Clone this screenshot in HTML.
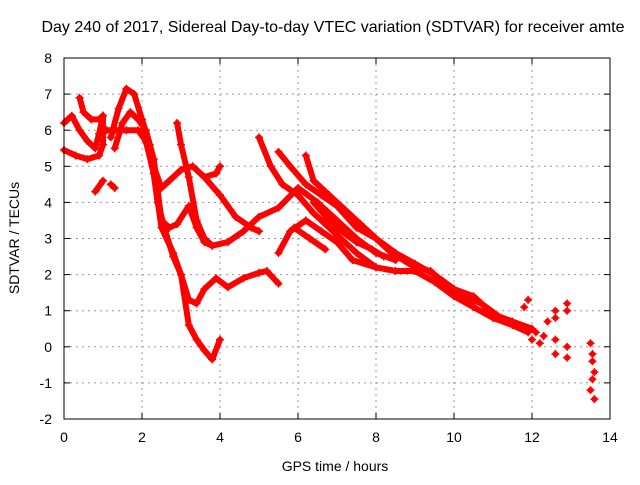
<!DOCTYPE html>
<html><head><meta charset="utf-8"><style>
body{margin:0;background:#fff;}
svg text{font-family:"Liberation Sans",sans-serif;font-size:14px;fill:#000;}
</style></head><body>
<svg id="chart" width="640" height="480" xmlns="http://www.w3.org/2000/svg">
<text x="333" y="32" text-anchor="middle" style="font-size:16px">Day 240 of 2017, Sidereal Day-to-day VTEC variation (SDTVAR) for receiver amte</text>
<text x="335" y="471" text-anchor="middle">GPS time / hours</text>
<text transform="translate(19,238) rotate(-90)" text-anchor="middle">SDTVAR / TECUs</text>
<g id="grid"></g><g id="marks"></g><g id="axes"></g>
</svg>
<script>
const xTicks=[0,2,4,6,8,10,12,14];
const yTicks=[-2,-1,0,1,2,3,4,5,6,7,8];
const track1=[[0,5.45],[0.3,5.3],[0.6,5.2],[0.9,5.3],[1.0,5.6],[1.0,6.4]];
const track2=[[0,6.2],[0.2,6.4],[0.4,6.0],[0.6,5.7],[0.8,5.5],[0.9,5.9],[1.0,6.4]];
const track3=[[0.4,6.9],[0.5,6.5],[0.7,6.3],[0.9,6.3],[1.0,6.4]];
const track4=[[0.8,4.3],[1.0,4.6]];
const track5=[[1.2,4.5],[1.3,4.4]];
const track6=[[1.2,5.8],[1.4,6.6],[1.6,7.15],[1.8,7.0],[2.0,6.3],[2.2,5.6],[2.4,4.0],[2.6,3.2],[2.8,2.5],[3.0,2.0],[3.2,1.3],[3.4,1.2],[3.6,1.6],[3.9,1.9],[4.2,1.65],[4.6,1.9],[5.0,2.05],[5.2,2.1],[5.5,1.75]];
const track7=[[1.1,6.0],[1.3,6.0],[1.6,6.0],[1.9,6.0],[2.1,5.7],[2.3,4.8],[2.5,3.3],[2.8,2.6],[3.0,2.0],[3.2,0.6],[3.4,0.2],[3.6,-0.1],[3.8,-0.35],[4.0,0.2]];
const track8=[[1.3,5.5],[1.5,6.2],[1.7,6.5],[1.9,6.3],[2.1,6.0],[2.3,5.2],[2.5,3.5],[2.7,3.3],[2.9,3.4],[3.2,3.9],[3.4,3.3],[3.6,2.9],[3.8,2.8],[4.2,2.9],[4.6,3.2],[5.0,3.6],[5.5,3.85],[6.0,4.4],[6.5,4.0],[7.0,3.5],[7.5,3.0],[8.0,2.6],[8.5,2.4]];
const track9=[[2.0,6.0],[2.3,5.0],[2.5,4.4],[2.7,4.6],[3.0,4.9],[3.3,5.0],[3.6,4.7],[3.9,4.8],[4.0,5.0]];
const track10=[[3.6,4.7],[4.0,4.2],[4.4,3.6],[4.8,3.3],[5.0,3.2]];
const track11=[[2.9,6.2],[3.0,5.6],[3.2,4.7],[3.4,3.5],[3.6,3.0],[3.8,2.8]];
const track12=[[5.0,5.8],[5.3,5.0],[5.6,4.5],[6.0,4.2],[6.4,3.7],[7.0,3.1],[7.5,2.6],[8.0,2.2],[8.5,2.1],[9.0,2.1],[9.5,1.8],[10,1.4],[10.5,1.1],[11,0.8],[11.5,0.6],[11.9,0.4]];
const track13=[[5.5,2.6],[5.8,3.2],[6.2,3.5],[6.6,3.2],[7.0,2.9],[7.4,2.4],[8.0,2.2]];
const track14=[[5.5,5.4],[5.8,5.0],[6.2,4.5],[6.6,4.2],[7.0,3.9],[7.5,3.3],[8.0,3.0],[8.5,2.6],[9.0,2.3],[9.5,2.0],[10,1.6],[10.5,1.4],[11,0.9],[11.5,0.7],[12,0.5]];
const track15=[[6.2,5.3],[6.4,4.6],[6.8,4.2],[7.2,3.8],[7.6,3.4],[8.0,3.0],[8.4,2.6],[9.0,2.2],[9.4,2.1],[9.8,1.6],[10.2,1.4],[10.7,1.2],[11.2,0.8]];
const track16=[[5.9,3.3],[6.3,3.0],[6.7,2.7]];
const track17=[[6.4,4.0],[6.8,3.5],[7.0,3.3],[7.5,2.9],[7.9,2.7],[8.2,2.5]];
const scatterPts=[[11.8,1.1],[11.9,1.3],[12.0,0.2],[12.1,0.4],[12.2,0.1],[12.3,0.3],[12.4,0.7],[12.6,1.0],[12.6,0.8],[12.6,0.2],[12.6,-0.2],[12.9,1.2],[12.9,1.0],[12.9,0.0],[12.9,-0.3],[13.5,0.1],[13.55,-0.2],[13.55,-0.4],[13.6,-0.7],[13.55,-0.9],[13.5,-1.2],[13.6,-1.45]];
const tracks=[track1,track2,track3,track4,track5,track6,track7,track8,track9,track10,track11,track12,track13,track14,track15,track16,track17];

const L=64,R=610,T=58,B=419,xMin=0,xMax=14,yMin=-2,yMax=8;
const xs=h=>L+(h-xMin)/(xMax-xMin)*(R-L);
const ys=v=>B-(v-yMin)/(yMax-yMin)*(B-T);
const NS='http://www.w3.org/2000/svg';
function mk(tag,parent,attrs){const e=document.createElementNS(NS,tag);for(const k in attrs)e.setAttribute(k,attrs[k]);parent.appendChild(e);return e;}
const grid=document.getElementById('grid'),marks=document.getElementById('marks'),axes=document.getElementById('axes');
xTicks.forEach(t=>{
  const x=xs(t);
  if(t>xMin&&t<xMax){const g=mk('line',grid,{x1:x,y1:T,x2:x,y2:B,stroke:'#999','stroke-dasharray':'2,4'});
  
  }
  mk('line',axes,{x1:x,y1:B,x2:x,y2:B-6,stroke:'#000'});
  mk('line',axes,{x1:x,y1:T,x2:x,y2:T+6,stroke:'#000'});
  const lb=mk('text',axes,{x:x,y:B+23,'text-anchor':'middle'});lb.textContent=t;
  
  
});
yTicks.forEach(t=>{
  const y=ys(t);
  if(t>yMin&&t<yMax){const g=mk('line',grid,{x1:L,y1:y,x2:R,y2:y,stroke:'#999','stroke-dasharray':'2,4'});
  
  }
  mk('line',axes,{x1:L,y1:y,x2:L+6,y2:y,stroke:'#000'});
  mk('line',axes,{x1:R,y1:y,x2:R-6,y2:y,stroke:'#000'});
  const lb=mk('text',axes,{x:L-12,y:y+5,'text-anchor':'end'});lb.textContent=t;
  
  
});
const fr=mk('rect',axes,{x:L,y:T,width:R-L,height:B-T,fill:'none',stroke:'#000'});


function plus(p,parent){
  const x=xs(p[0]),y=ys(p[1]);
  mk('path',parent,{d:`M${x-4},${y}H${x+4}M${x},${y-4}V${y+4}`,stroke:'#f00','stroke-width':1.5});
}
tracks.forEach(tr=>{
  const g=mk('g',marks,{});
  
  
  mk('polyline',g,{points:tr.map(p=>xs(p[0])+','+ys(p[1])).join(' '),fill:'none',stroke:'#f00','stroke-width':6,'stroke-linejoin':'round','stroke-linecap':'round'});
  tr.forEach(p=>plus(p,g));
});
const sg=mk('g',marks,{});


scatterPts.forEach(p=>{plus(p,sg);mk('circle',sg,{cx:xs(p[0]),cy:ys(p[1]),r:3,fill:'#f00'});});
</script>
</body></html>
